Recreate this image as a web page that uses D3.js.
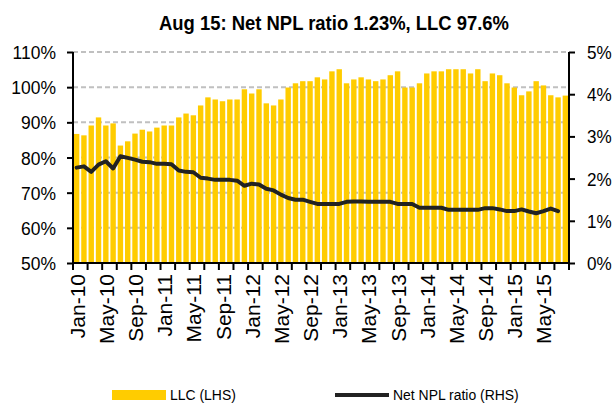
<!DOCTYPE html>
<html>
<head>
<meta charset="utf-8">
<script src="https://cdn.jsdelivr.net/npm/d3@7"></script>
<style>
  html, body { margin: 0; padding: 0; background: #fff; }
  svg { display: block; font-family: "Liberation Sans", Arial, sans-serif; }
</style>
</head>
<body>
<svg id="chart" width="616" height="403"></svg>
<script>
// Monthly categories, Jan-10 .. Aug-15
const startMonth = new Date(Date.UTC(2010, 0, 1));
const endMonth = new Date(Date.UTC(2015, 8, 1));
const months = d3.utcMonths(startMonth, endMonth);
const fmtMonth = d3.utcFormat("%b-%y");
const categories = months.map(fmtMonth);

// Loan-loss coverage (LLC, %), left axis
const llc = [
  86.7, 86.3, 89.1, 91.4, 89.1, 89.7, 83.4, 84.6, 86.8, 87.9, 87.4, 88.5,
  89.1, 89.1, 91.4, 92.5, 92.0, 94.8, 97.1, 96.5, 96.0, 96.5, 96.5, 99.4,
  98.2, 99.4, 95.4, 94.8, 96.5, 99.9, 101.1, 101.7, 101.7, 102.8, 102.2, 104.5,
  105.1, 101.1, 102.2, 102.8, 102.2, 101.7, 102.2, 103.4, 104.5, 99.9, 99.9, 101.1,
  103.9, 104.5, 104.5, 105.1, 105.1, 105.1, 103.9, 105.1, 101.7, 103.9, 103.4, 101.1,
  99.9, 97.7, 98.8, 101.7, 100.5, 97.7, 97.1, 97.6
];

// Net NPL ratio (%), right axis
const npl = [
  2.26, 2.29, 2.16, 2.33, 2.41, 2.24, 2.53, 2.49, 2.45, 2.40, 2.39, 2.35,
  2.35, 2.34, 2.19, 2.16, 2.15, 2.02, 2.00, 1.97, 1.97, 1.97, 1.95, 1.83,
  1.88, 1.86, 1.76, 1.72, 1.62, 1.54, 1.50, 1.50, 1.45, 1.40, 1.40, 1.40,
  1.40, 1.45, 1.46, 1.46, 1.45, 1.45, 1.45, 1.45, 1.40, 1.40, 1.40, 1.31,
  1.31, 1.31, 1.31, 1.26, 1.26, 1.26, 1.26, 1.26, 1.30, 1.30, 1.27, 1.23,
  1.23, 1.27, 1.22, 1.18, 1.23, 1.29, 1.23
];

const leftTicks = [50, 60, 70, 80, 90, 100, 110];
const rightTicks = [0, 1, 2, 3, 4, 5];
const titleText = "Aug 15: Net NPL ratio 1.23%, LLC 97.6%";
const legendItems = ["LLC (LHS)", "Net NPL ratio (RHS)"];

const BAR = "#FFCC00";
const LINE = "#222222";
const GRID = "#c0c0c0";

const m = { left: 73, right: 569, top: 52, bottom: 263 };
const svg = d3.select("#chart");

const x = d3.scaleBand().domain(categories).range([m.left, m.right])
  .paddingInner(0.26).paddingOuter(0.13);
const yL = d3.scaleLinear().domain([50, 110]).range([m.bottom, m.top]);
const yR = d3.scaleLinear().domain([0, 5]).range([m.bottom, m.top]);

// Title
svg.append("text")
  .attr("x", 334).attr("y", 30)
  .attr("text-anchor", "middle")
  .attr("font-weight", "bold")
  .attr("font-size", 20.5)
  .attr("textLength", 350)
  .attr("lengthAdjust", "spacingAndGlyphs")
  .attr("fill", "#000")
  .text(titleText);

// Dashed gridlines on the left-axis ticks
svg.append("g")
  .selectAll("line")
  .data(leftTicks.filter(d => d > 50))
  .join("line")
  .attr("x1", m.left).attr("x2", m.right)
  .attr("y1", d => yL(d)).attr("y2", d => yL(d))
  .attr("stroke", GRID).attr("stroke-width", 2)
  .attr("stroke-dasharray", "5,3");

// LLC bars
svg.append("g")
  .selectAll("rect")
  .data(llc)
  .join("rect")
  .attr("x", (d, i) => x(categories[i]))
  .attr("width", x.bandwidth())
  .attr("y", d => yL(d))
  .attr("height", d => yL(50) - yL(d))
  .attr("fill", BAR);

// Net NPL line
const line = d3.line()
  .x((d, i) => x(categories[i]) + x.bandwidth() / 2)
  .y(d => yR(d));
svg.append("path")
  .datum(npl)
  .attr("d", line)
  .attr("fill", "none")
  .attr("stroke", LINE)
  .attr("stroke-width", 4)
  .attr("stroke-linejoin", "round")
  .attr("stroke-linecap", "round");

// Left axis
const gL = svg.append("g").attr("transform", `translate(${m.left},0)`)
  .call(d3.axisLeft(yL).tickValues(leftTicks).tickSize(6).tickFormat(() => ""));
gL.selectAll("path, line").attr("stroke", "#000").attr("stroke-width", 2);
gL.select(".domain").attr("d", `M0,${m.bottom}V${m.top}`);
svg.append("g").selectAll("text")
  .data(leftTicks)
  .join("text")
  .attr("transform", d => `translate(56,${yL(d) + 7}) scale(0.92,1)`)
  .attr("text-anchor", "end")
  .attr("font-size", 19)
  .text(d => d + "%");

// Right axis
const gR = svg.append("g").attr("transform", `translate(${m.right},0)`)
  .call(d3.axisRight(yR).tickValues(rightTicks).tickSize(6).tickFormat(() => ""));
gR.selectAll("path, line").attr("stroke", "#000").attr("stroke-width", 2);
gR.select(".domain").attr("d", `M0,${m.bottom}V${m.top}`);
svg.append("g").selectAll("text")
  .data(rightTicks)
  .join("text")
  .attr("transform", d => `translate(587,${yR(d) + 7}) scale(0.9,1)`)
  .attr("text-anchor", "start")
  .attr("font-size", 19)
  .text(d => d + "%");

// Bottom category axis: ticks every two months, labels every four
const step = x.step();
const boundaries = d3.range(0, categories.length + 1, 2);
const gB = svg.append("g");
gB.append("line")
  .attr("x1", m.left - 1).attr("x2", m.right + 1)
  .attr("y1", m.bottom).attr("y2", m.bottom)
  .attr("stroke", "#000").attr("stroke-width", 2);
gB.selectAll("line.tick")
  .data(boundaries)
  .join("line")
  .attr("class", "tick")
  .attr("x1", k => m.left + k * step).attr("x2", k => m.left + k * step)
  .attr("y1", m.bottom).attr("y2", m.bottom + 7)
  .attr("stroke", "#000").attr("stroke-width", 2);
gB.selectAll("text")
  .data(categories.filter((c, i) => i % 4 === 0))
  .join("text")
  .attr("transform", c => `translate(${x(c) + x.bandwidth() / 2 + 8},274) scale(0.92,1) rotate(-90)`)
  .attr("text-anchor", "end")
  .attr("font-size", 21)
  .text(c => c);

// Legend
const lg = svg.append("g");
lg.append("rect").attr("x", 112).attr("y", 390).attr("width", 54).attr("height", 10).attr("fill", BAR);
lg.append("text")
  .attr("transform", "translate(170,400) scale(0.9,1)")
  .attr("font-size", 15.5)
  .text(legendItems[0]);
lg.append("line")
  .attr("x1", 335).attr("x2", 389).attr("y1", 395).attr("y2", 395)
  .attr("stroke", LINE).attr("stroke-width", 4);
lg.append("text")
  .attr("transform", "translate(393,400) scale(0.9,1)")
  .attr("font-size", 15.5)
  .text(legendItems[1]);
</script>
</body>
</html>
